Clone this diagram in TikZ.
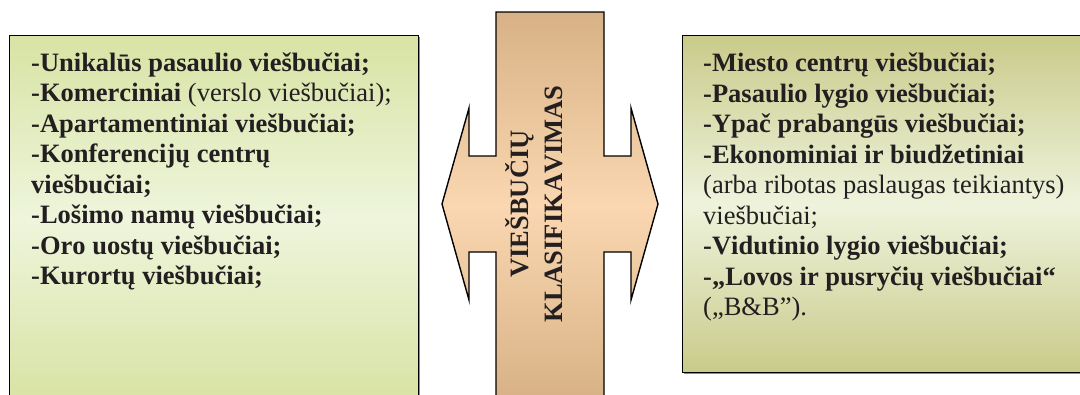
\documentclass[tikz,border=0pt]{standalone}
\usepackage{fontspec}
\setmainfont{Liberation Serif}[Kerning=Off]
\usetikzlibrary{shadows}

\definecolor{inktext}{HTML}{231F20}
\definecolor{leftedge}{HTML}{D8E3A4}
\definecolor{leftmid}{HTML}{EEF5DC}
\definecolor{rightedge}{HTML}{C9CB8A}
\definecolor{rightmid}{HTML}{EEF3DC}
\definecolor{baredge}{HTML}{D8B286}
\definecolor{barmid}{HTML}{FAD7B1}

\tikzset{
  panel/.style={draw=black, line width=1.4pt, rectangle, inner sep=0pt,
    anchor=north west,
    drop shadow={shadow xshift=1.6pt, shadow yshift=-1.6pt, fill=black!45, opacity=1}},
  listtext/.style={anchor=north west, inner sep=0pt, align=left, text=inktext,
    font=\fontsize{26.5}{30.5}\selectfont},
  titletext/.style={rotate=90, inner sep=0pt, align=center, text=inktext,
    font=\fontsize{26.5}{34}\selectfont\bfseries},
}

\begin{document}
\begin{tikzpicture}[x=1pt, y=-1pt]
  \clip (0,0) rectangle (1080,394);
  \fill[white] (0,0) rectangle (1080,394);

  % left panel
  \node[panel, minimum width=409pt, minimum height=365pt,
        top color=leftedge, bottom color=leftedge, middle color=leftmid]
        (leftbox) at (9,35) {};
  \node[listtext] (lefttext) at (31,52.5) {%
    \textbf{-Unikalūs pasaulio viešbučiai;}\\
    \textbf{-Komerciniai} (verslo viešbučiai);\\
    \textbf{-Apartamentiniai viešbučiai;}\\
    \textbf{-Konferencijų centrų}\\
    \textbf{viešbučiai;}\\
    \textbf{-Lošimo namų viešbučiai;}\\
    \textbf{-Oro uostų viešbučiai;}\\
    \textbf{-Kurortų viešbučiai;}};

  % right panel
  \node[panel, minimum width=410pt, minimum height=337pt,
        top color=rightedge, bottom color=rightedge, middle color=rightmid]
        (rightbox) at (682,35) {};
  \node[listtext] (righttext) at (703,52.7) {%
    \textbf{-Miesto centrų viešbučiai;}\\
    \textbf{-Pasaulio lygio viešbučiai;}\\
    \textbf{-Ypač prabangūs viešbučiai;}\\
    \textbf{-Ekonominiai ir biudžetiniai}\\
    (arba ribotas paslaugas teikiantys)\\
    viešbučiai;\\
    \textbf{-Vidutinio lygio viešbučiai;}\\
    \textbf{-„Lovos ir pusryčių viešbučiai“}\\
    („B\&B”).};

  % central cross: vertical bar with a two-headed horizontal arrow
  \path[draw=black, line width=1.4pt, line join=miter,
        top color=baredge, bottom color=baredge, middle color=barmid]
    (496,12) -- (604,12) -- (604,156) -- (631,156) -- (631,108)
    -- (658,204) -- (631,300) -- (631,252) -- (604,252) -- (604,400)
    -- (496,400) -- (496,252) -- (469,252) -- (469,300) -- (442,204)
    -- (469,108) -- (469,156) -- (496,156) -- cycle;
  \node[titletext] (title) at (534,204) {VIEŠBUČIŲ\\KLASIFIKAVIMAS};
\end{tikzpicture}
\end{document}
